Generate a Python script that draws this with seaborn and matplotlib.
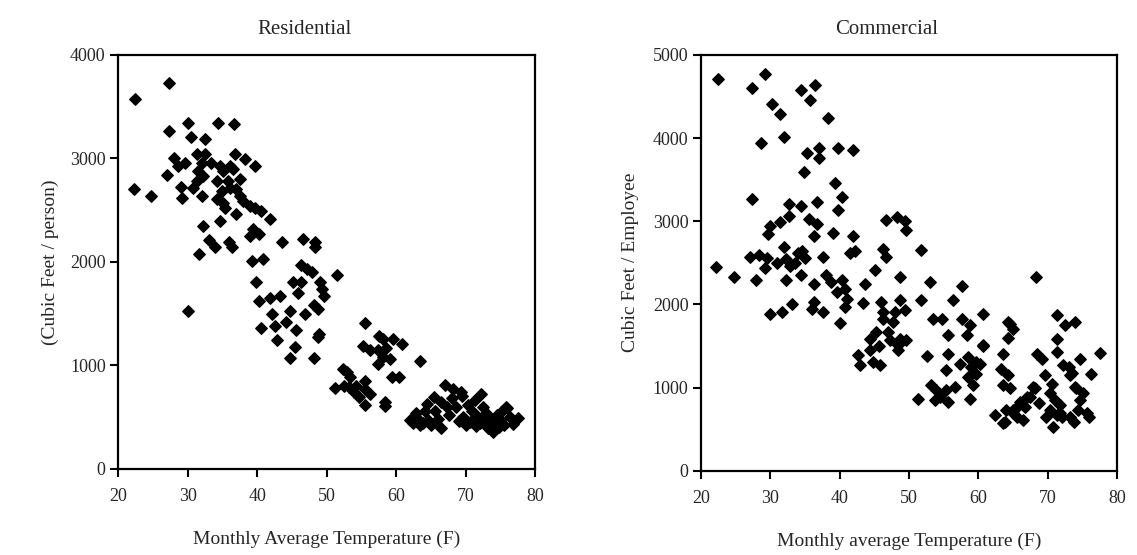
import pandas as pd
import seaborn as sns
import matplotlib.pyplot as plt

# Residential: monthly average temperature (F) vs cubic feet per person
res_temp = [22.2, 22.4, 24.7, 27.0, 27.3, 27.3, 28.0, 28.6, 29.1, 29.2, 29.6, 30.0, 30.0, 30.5,
            30.8, 31.3, 31.3, 31.5, 31.6, 32.0, 32.1, 32.2, 32.2, 32.5, 32.5, 33.0, 33.3, 34.0,
            34.2, 34.2, 34.4, 34.6, 34.6, 34.9, 35.1, 35.1, 35.4, 35.8, 36.0, 36.1, 36.1, 36.4,
            36.5, 36.7, 36.8, 37.0, 37.0, 37.5, 37.5, 38.0, 38.2, 38.9, 38.9, 39.2, 39.4, 39.7,
            39.7, 39.9, 40.2, 40.3, 40.6, 40.6, 40.9, 41.8, 41.8, 42.2, 42.6, 42.9, 43.3, 43.6,
            44.1, 44.8, 44.8, 45.1, 45.5, 45.6, 45.9, 46.3, 46.3, 46.6, 46.9, 47.2, 47.9, 48.2,
            48.2, 48.4, 48.4, 48.7, 48.7, 48.9, 49.0, 49.3, 49.6, 51.5,
            51.2, 52.4, 52.9, 53.3, 52.5, 53.2, 53.9, 54.6, 55.5, 55.6, 56.3, 55.5, 54.2, 58.4,
            58.4, 59.4, 60.4, 63.4, 55.5, 57.6, 58.1, 59.6, 60.8, 55.3, 56.2, 57.4, 58.1, 59.1,
            57.4, 58.6,
            62.0, 62.4, 62.9, 63.2, 63.5, 63.9, 64.2, 64.4, 64.6, 65.0, 65.4, 65.6, 66.0, 66.5,
            66.5, 67.0, 67.3, 67.6, 68.0, 68.2, 68.7, 69.0, 69.4, 69.5, 69.7, 70.0, 70.3, 70.6,
            71.0, 71.3, 71.5, 71.8, 72.1, 72.3, 72.5, 72.8, 73.0, 73.2, 73.5, 73.8, 74.0, 74.2,
            74.5, 74.8, 75.0, 75.3, 75.6, 75.9, 76.0, 76.4, 76.8, 77.6]
res_cf = [2700, 3570, 2640, 2840, 3730, 3260, 3000, 2930, 2720, 2620, 2960, 1520, 3340, 3210,
          2717, 2781, 3038, 2878, 2080, 2637, 2960, 2830, 2348, 3183, 3038, 2210, 2960, 2143,
          2781, 2605, 3343, 2926, 2396, 2685, 2878, 2572, 2524, 2781, 2191, 2926, 2717, 2143,
          2894, 3337, 3038, 2701, 2466, 2798, 2637, 2589, 2990, 2540, 2250, 2008, 2316, 2926,
          2524, 1805, 1626, 2270, 2492, 1358, 2030, 2412, 1649, 1497, 1378, 1249, 1668, 2191,
          1420, 1520, 1068, 1805, 1181, 1343, 1703, 1965, 1805, 2220, 1497, 1930, 1905, 1578,
          1068, 2190, 2140, 1275, 1540, 1305, 1805, 1742, 1669, 1868,
          781, 967, 935, 886, 803, 787, 739, 690, 852, 771, 723, 617, 800, 642,
          610, 890, 885, 1045, 1411, 1287, 1256, 1256, 1201, 1182, 1144, 1144, 1079, 1063,
          1015, 1170,
          469, 440, 534, 480, 420, 437, 560, 630, 470, 420, 694, 560, 480, 389,
          640, 806, 600, 520, 680, 774, 597, 460, 742, 700, 501, 420, 620, 453,
          560, 662, 410, 500, 437, 726, 600, 450, 540, 390, 405, 480, 356, 430,
          520, 400, 469, 560, 420, 597, 582, 501, 430, 486]

# Commercial: monthly average temperature (F) vs cubic feet per employee
com_temp = [22.4, 29.3, 27.3, 34.4, 36.4, 35.7, 30.3, 31.4, 38.3, 28.7, 32.0, 35.3, 37.0, 37.0,
            39.7, 41.9, 34.9, 39.3, 40.3, 27.3, 32.7, 34.4, 36.7, 39.7, 32.7, 31.4, 30.0, 29.6,
            35.6, 36.7, 36.3, 39.0, 41.9, 32.0, 41.5, 42.2, 37.6, 27.0, 28.3, 29.5, 30.9, 32.3,
            32.8, 33.5, 34.0, 34.6, 35.0, 22.1, 24.7, 29.2, 28.0, 32.3, 34.4, 30.0, 31.7, 33.1,
            36.3, 36.0, 36.3, 37.6, 38.1, 38.8, 39.6, 40.3, 40.8, 41.0, 40.8, 40.0, 42.7, 43.0,
            45.1, 43.6, 48.7, 53.0, 57.7, 68.3, 46.7, 48.3, 49.4, 49.6, 46.3, 46.7, 51.7, 43.3,
            46.0, 48.7, 51.7, 56.4, 46.3, 48.0, 49.4, 46.3, 47.7, 53.5, 54.7, 57.7, 58.8, 60.7,
            64.3, 65.0, 64.3, 71.3, 72.5, 74.0, 71.3, 71.3, 45.3, 44.4, 47.0, 47.2, 48.7, 49.6,
            48.4, 48.4, 45.7, 44.4, 44.8, 45.8, 55.6, 58.3, 60.7, 52.6, 55.6, 55.3, 57.3, 58.5,
            59.0, 59.7, 59.7, 58.5, 59.2, 63.6, 68.4, 69.1, 63.3, 64.3, 63.6, 64.5, 69.6, 70.6,
            72.2, 73.2, 73.9, 53.2, 53.9, 56.6, 55.4, 54.4, 53.7, 55.6, 51.3, 58.8, 67.9, 67.0,
            66.0, 68.8, 70.3, 62.4, 63.6, 65.0, 65.5, 66.4, 64.0, 65.5, 69.8, 70.8, 71.7, 71.7,
            73.2, 77.6, 74.6, 76.3, 74.1, 75.1, 74.6, 75.6, 74.4, 76.0, 73.8, 71.0, 70.3, 71.3,
            72.0, 63.8, 65.0, 67.4, 68.1, 66.7, 60.2, 60.7, 64.5, 73.0, 73.5]
com_cf = [4705, 4765, 4597, 4573, 4633, 4453, 4405, 4293, 4237, 3938, 4013, 3818, 3878, 3765,
          3878, 3854, 3597, 3458, 3297, 3273, 3213, 3186, 3237, 3134, 3066, 2986, 2938, 2846,
          3026, 2966, 2826, 2854, 2826, 2686, 2614, 2638, 2574, 2574, 2598, 2558, 2494, 2540,
          2460, 2500, 2620, 2640, 2560, 2446, 2326, 2439, 2295, 2295, 2355, 1887, 1907, 1999,
          2247, 1947, 2026, 1907, 2358, 2266, 2146, 2295, 2187, 2067, 1966, 1775, 1387, 1267,
          2415, 2247, 2334, 2266, 2215, 2326, 3018, 3054, 2998, 2898, 2667, 2566, 2658, 2019,
          2027, 2055, 2047, 2047, 1907, 1907, 1935, 1827, 1787, 1827, 1827, 1827, 1747, 1887,
          1787, 1707, 1600, 1867, 1747, 1787, 1587, 1427, 1667, 1587, 1667, 1567, 1587, 1575,
          1507, 1447, 1495, 1447, 1307, 1267, 1627, 1627, 1495, 1375, 1407, 1216, 1288, 1367,
          1247, 1307, 1168, 1127, 1028, 1407, 1407, 1347, 1228, 1148, 1028, 988, 1148, 1048,
          1267, 1148, 1007, 1028, 968, 1007, 968, 887, 848, 827, 857, 857, 1007, 887,
          827, 808, 928, 668, 575, 688, 767, 608, 728, 648, 648, 528, 788, 688,
          648, 1415, 1347, 1160, 988, 928, 848, 688, 728, 648, 588, 848, 728, 668,
          648, 588, 728, 887, 988, 768, 1288, 1507, 1767, 1250, 1180]

res = pd.DataFrame({"temp": res_temp, "cf": res_cf})
com = pd.DataFrame({"temp": com_temp, "cf": com_cf})

sns.set_style("ticks")
plt.rcParams['font.family'] = ['Liberation Serif', 'DejaVu Serif']

fig = plt.figure(figsize=(11.37, 5.55), dpi=100)
ax1 = fig.add_axes([0.1040, 0.1555, 0.3665, 0.7455])
ax2 = fig.add_axes([0.6165, 0.1520, 0.3660, 0.7490])

panels = [
    (ax1, res, "Residential", "Monthly Average Temperature (F)", "(Cubic Feet / person)",
     4000, [0, 1000, 2000, 3000, 4000], -0.143),
    (ax2, com, "Commercial", "Monthly average Temperature (F)", "Cubic Feet / Employee",
     5000, [0, 1000, 2000, 3000, 4000, 5000], -0.150),
]

for ax, df, title, xlabel, ylabel, ymax, yticks, ylab_x in panels:
    sns.scatterplot(data=df, x="temp", y="cf", ax=ax, marker="D", s=34,
                    color="black", edgecolor="black", linewidth=1.0)
    ax.set_xlim(20, 80)
    ax.set_ylim(0, ymax)
    ax.set_xticks([20, 30, 40, 50, 60, 70, 80])
    ax.set_yticks(yticks)
    ax.set_title(title, fontsize=15, x=0.447, pad=15)
    ax.set_xlabel(xlabel, fontsize=14, va="top")
    ax.set_ylabel(ylabel, fontsize=14)
    ax.xaxis.set_label_coords(0.5, -0.150)
    ax.yaxis.set_label_coords(ylab_x, 0.5)
    ax.tick_params(axis="both", direction="out", length=6, width=1.5,
                   labelsize=13, color="black")
    ax.tick_params(axis="x", pad=8)
    ax.tick_params(axis="y", pad=3)
    for spine in ax.spines.values():
        spine.set_visible(True)
        spine.set_color("black")
        spine.set_linewidth(1.6)
    ax.grid(False)

fig.savefig("out.png", dpi=100, facecolor="white")
